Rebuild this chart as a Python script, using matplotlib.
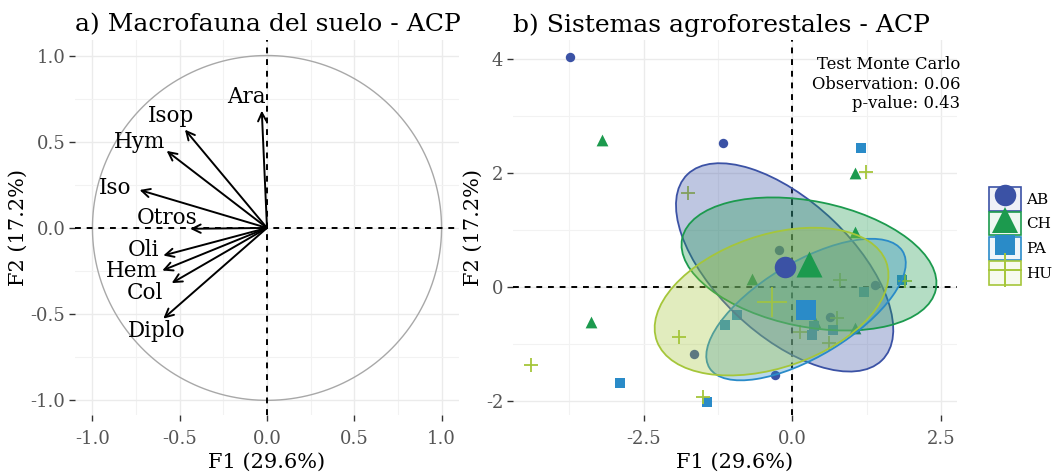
import numpy as np
import matplotlib
matplotlib.use("Agg")
import matplotlib.pyplot as plt
from matplotlib.patches import Ellipse, Patch
from matplotlib.lines import Line2D
from matplotlib.legend_handler import HandlerTuple
from matplotlib.colors import to_rgba
from matplotlib.ticker import MultipleLocator, FormatStrFormatter

plt.rcParams['font.family'] = ['DejaVu Serif']

# ---------------- data: panel a (correlation circle) ----------------
var_names = ["Ara", "Isop", "Hym", "Iso", "Otros", "Oli", "Hem", "Col", "Diplo"]
var_f1 = [-0.03, -0.47, -0.575, -0.73, -0.44, -0.594, -0.60, -0.546, -0.594]
var_f2 = [0.68, 0.57, 0.447, 0.22, -0.005, -0.16, -0.247, -0.32, -0.526]
label_f1 = [-0.12, -0.55, -0.73, -0.87, -0.575, -0.71, -0.775, -0.70, -0.63]
label_f2 = [0.76, 0.65, 0.50, 0.23, 0.06, -0.13, -0.25, -0.375, -0.60]

# ---------------- data: panel b (sites) ----------------
groups = ["AB", "CH", "PA", "HU"]
ab_f1 = [-3.74, -1.16, -0.23, -1.65, -0.29, 0.63, 1.39]
ab_f2 = [4.04, 2.52, 0.64, -1.18, -1.55, -0.53, 0.03]
ch_f1 = [-3.21, -3.38, 1.06, 1.06, -0.68, 0.38, 1.06]
ch_f2 = [2.57, -0.61, 2.00, 0.96, 0.13, -0.61, -0.73]
pa_f1 = [1.15, -2.90, -1.43, -1.13, -0.93, 0.33, 0.69, 1.20, 1.84, 0.36]
pa_f2 = [2.43, -1.69, -2.03, -0.67, -0.50, -0.85, -0.76, -0.09, 0.12, -0.68]
hu_f1 = [-4.39, -1.75, -1.90, -1.51, 1.24, 0.80, 0.13, 0.61, 0.75, 1.90]
hu_f2 = [-1.37, 1.64, -0.89, -1.93, 2.02, 0.12, -0.80, -0.99, -0.55, 0.10]
centroid_f1 = [-0.13, 0.28, 0.23, -0.35]
centroid_f2 = [0.34, 0.40, -0.40, -0.26]
# ellipse (semi axes, angle in degrees)
ell_a = [2.31, 2.18, 1.92, 2.05]
ell_b = [1.16, 1.10, 0.82, 1.16]
ell_angle = [-45, -12, 32.5, 20]
mc_observation = 0.06
mc_pvalue = 0.43

colors = {"AB": "#3B52A5", "CH": "#1C9A4E", "PA": "#2A8BC8", "HU": "#A5C63A"}
markers = {"AB": "o", "CH": "^", "PA": "s", "HU": "+"}
small_s = {"AB": 46, "CH": 72, "PA": 52, "HU": 95}
big_s = {"AB": 240, "CH": 350, "PA": 225, "HU": 480}
pts = {"AB": (ab_f1, ab_f2), "CH": (ch_f1, ch_f2), "PA": (pa_f1, pa_f2), "HU": (hu_f1, hu_f2)}

W, H = 1054, 476
fig = plt.figure(figsize=(W / 100, H / 100), dpi=100)
ax1 = fig.add_axes([75 / W, 1 - 415 / H, 384 / W, 375 / H])
ax2 = fig.add_axes([513 / W, 1 - 415 / H, 444 / W, 375 / H])

grid_col = "#EBEBEB"
for ax in (ax1, ax2):
    for s in ax.spines.values():
        s.set_visible(False)
    ax.grid(True, which="major", color=grid_col, lw=1.0, zorder=0)
    ax.grid(True, which="minor", color="#F2F2F2", lw=0.8, zorder=0)
    ax.set_axisbelow(True)
    ax.tick_params(which="major", length=4, width=1.0, color="#333333",
                   labelcolor="#555555", labelsize=13, pad=3)
    ax.tick_params(axis="x", which="major", pad=7)
    ax.tick_params(which="minor", length=0)
    ax.axhline(0, color="black", ls=(0, (3, 3)), lw=1.4, zorder=2)
    ax.axvline(0, color="black", ls=(0, (3, 3)), lw=1.4, zorder=2)

# ---- panel a ----
ax1.set_xlim(-1.1, 1.1)
ax1.set_ylim(-1.085, 1.09)
ax1.xaxis.set_major_locator(MultipleLocator(0.5))
ax1.xaxis.set_minor_locator(MultipleLocator(0.25))
ax1.yaxis.set_major_locator(MultipleLocator(0.5))
ax1.yaxis.set_minor_locator(MultipleLocator(0.25))
th = np.linspace(0, 2 * np.pi, 400)
ax1.plot(np.cos(th), np.sin(th), color="#A8A8A8", lw=1.0, zorder=1)
for n, x, y, lx, ly in zip(var_names, var_f1, var_f2, label_f1, label_f2):
    ax1.annotate("", xy=(x, y), xytext=(0, 0),
                 arrowprops=dict(arrowstyle="->", color="black", lw=1.4,
                                 shrinkA=0, shrinkB=0, mutation_scale=15), zorder=3)
    ax1.text(lx, ly, n, ha="center", va="center", fontsize=15.5, color="black", zorder=4)
ax1.set_xlabel("F1 (29.6%)", fontsize=15, labelpad=3)
ax1.set_ylabel("F2 (17.2%)", fontsize=15, labelpad=2)
ax1.xaxis.set_major_formatter(FormatStrFormatter("%.1f"))
ax1.yaxis.set_major_formatter(FormatStrFormatter("%.1f"))
ax1.set_title("a) Macrofauna del suelo - ACP", loc="left", fontsize=18, pad=6)

# ---- panel b ----
ax2.set_xlim(-4.70, 2.77)
ax2.set_ylim(-2.25, 4.33)
ax2.xaxis.set_major_locator(MultipleLocator(2.5))
ax2.xaxis.set_minor_locator(MultipleLocator(1.25))
ax2.yaxis.set_major_locator(MultipleLocator(2))
ax2.yaxis.set_minor_locator(MultipleLocator(1))
ax2.xaxis.set_major_formatter(FormatStrFormatter("%.1f"))
ax2.yaxis.set_major_formatter(FormatStrFormatter("%d"))

for g in groups:
    x, y = pts[g]
    c = colors[g]
    if markers[g] == "+":
        ax2.scatter(x, y, marker="+", s=small_s[g], color=c, linewidths=1.3, zorder=3)
    else:
        ax2.scatter(x, y, marker=markers[g], s=small_s[g], color=c, linewidths=0, zorder=3)

for i, g in enumerate(groups):
    c = colors[g]
    e = Ellipse((centroid_f1[i], centroid_f2[i]), 2 * ell_a[i], 2 * ell_b[i], angle=ell_angle[i],
                facecolor=to_rgba(c, 0.33), edgecolor=c, lw=1.3, zorder=4)
    ax2.add_patch(e)

for i, g in enumerate(groups):
    c = colors[g]
    if markers[g] == "+":
        ax2.scatter(centroid_f1[i], centroid_f2[i], marker="+", s=big_s[g], color=c,
                    linewidths=1.4, alpha=0.8, zorder=5)
    else:
        ax2.scatter(centroid_f1[i], centroid_f2[i], marker=markers[g], s=big_s[g], color=c,
                    linewidths=0, zorder=5)

ax2.text(1.007, 0.957,
         f"Test Monte Carlo\nObservation: {mc_observation:.2f}\np-value: {mc_pvalue:.2f}",
         transform=ax2.transAxes, ha="right", va="top", fontsize=11.8, linespacing=1.2, zorder=6)
ax2.set_xlabel("F1 (29.6%)", fontsize=15, labelpad=3)
ax2.set_ylabel("F2 (17.2%)", fontsize=15, labelpad=2)
ax2.set_title("b) Sistemas agroforestales - ACP", loc="left", fontsize=18, pad=6)

handles = []
for g in groups:
    c = colors[g]
    p = Patch(facecolor=to_rgba(c, 0.08), edgecolor=c, lw=1.2)
    ms = np.sqrt(big_s[g]) * (1.15 if g == "HU" else 1.0)
    m = Line2D([], [], marker=markers[g], ls="", color=c, markersize=ms,
               markeredgewidth=1.4 if g == "HU" else 0)
    handles.append((p, m))
fig.legend(handles, groups, loc="center left", bbox_to_anchor=(989 / W, 1 - 236 / H),
           frameon=False, fontsize=11, handlelength=2.1, handleheight=2.0,
           labelspacing=0.08, handletextpad=0.35, borderpad=0, borderaxespad=0,
           handler_map={tuple: HandlerTuple(ndivide=1)})

fig.savefig("out.png", dpi=100)
